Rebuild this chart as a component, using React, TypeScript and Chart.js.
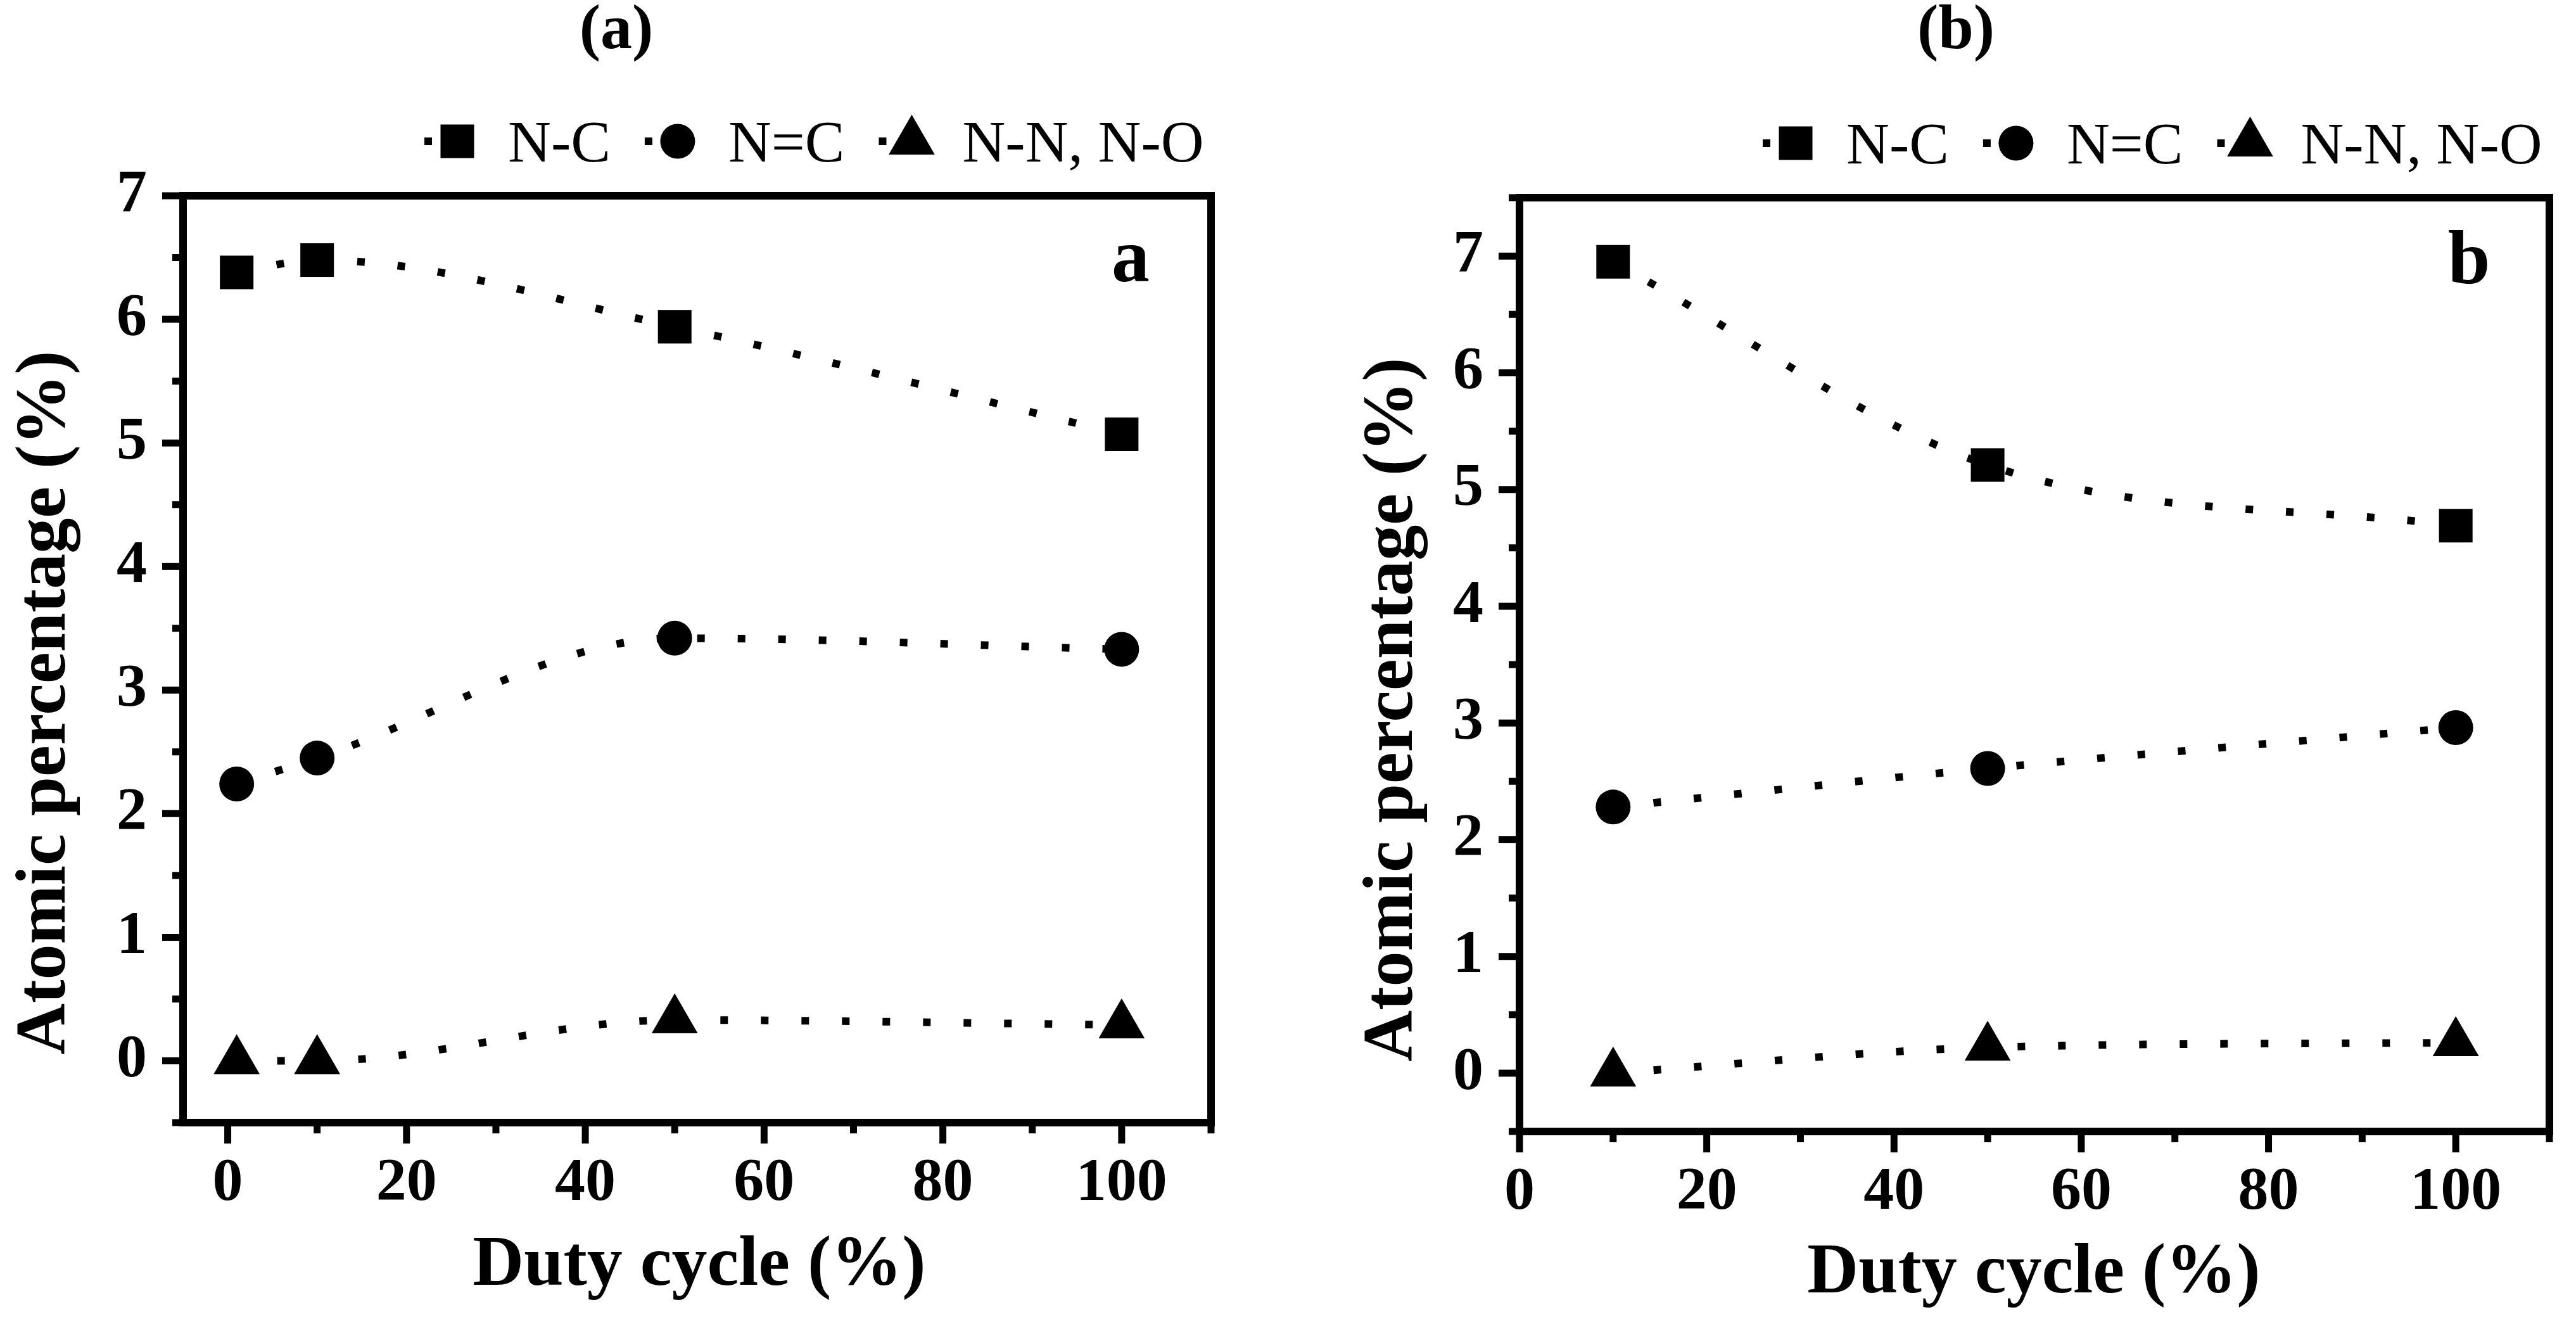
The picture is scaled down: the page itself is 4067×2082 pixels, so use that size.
import { useEffect, useRef } from 'react';
import { Chart, registerables } from 'chart.js';

Chart.register(...registerables);

const FONT = "'Liberation Serif', 'Times New Roman', serif";
const PAGE_H = 2082;

// series names and marker shapes (same for both panels)
const seriesNames = ['N-C', 'N=C', 'N-N, N-O'];
const seriesMarkers = ['rect', 'circle', 'triangle'] as const;

// panel (a)
const dutyA = [1, 10, 50, 100];
const ncA = [6.38, 6.48, 5.94, 5.07];
const ndcA = [2.24, 2.45, 3.42, 3.33];
const nnA = [0, 0, 0.33, 0.29];

// panel (b)
const dutyB = [10, 50, 100];
const ncB = [6.95, 5.21, 4.69];
const ndcB = [2.28, 2.61, 2.96];
const nnB = [0, 0.22, 0.26];

// tick values
const xMajor = [0, 20, 40, 60, 80, 100];
const xMinor = [10, 30, 50, 70, 90, 110];
const yMajor = [0, 1, 2, 3, 4, 5, 6, 7];
const yMinorA = [-0.5, 0.5, 1.5, 2.5, 3.5, 4.5, 5.5, 6.5];
const yMinorB = [-0.5, 0.5, 1.5, 2.5, 3.5, 4.5, 5.5, 6.5, 7.5];

interface PanelCfg {
  title: string;
  letter: string;
  x: number[];
  series: number[][];
  xMin: number;
  xMax: number;
  yMin: number;
  yMax: number;
  yMinor: number[];
  offset: number;
  width: number;
  area: { left: number; right: number; top: number; bottom: number };
  titleX: number;
  xTitleX: number;
  xTitleY: number;
  yTitleX: number;
  yTitleY: number;
  legendY: number;
}

const panelA: PanelCfg = {
  title: '(a)',
  letter: 'a',
  x: dutyA,
  series: [ncA, ndcA, nnA],
  xMin: -5,
  xMax: 110,
  yMin: -0.5,
  yMax: 7,
  yMinor: yMinorA,
  offset: 0,
  width: 2034,
  area: { left: 289, right: 1912, top: 309, bottom: 1772 },
  titleX: 973,
  xTitleX: 1104,
  xTitleY: 2028,
  yTitleX: 102,
  yTitleY: 1109,
  legendY: 223,
};

const panelB: PanelCfg = {
  title: '(b)',
  letter: 'b',
  x: dutyB,
  series: [ncB, ndcB, nnB],
  xMin: 0,
  xMax: 110,
  yMin: -0.5,
  yMax: 7.5,
  yMinor: yMinorB,
  offset: 2034,
  width: 2033,
  area: { left: 365, right: 1997, top: 312, bottom: 1786 },
  titleX: 1054,
  xTitleX: 1177,
  xTitleY: 2040,
  yTitleX: 195,
  yTitleY: 1120,
  legendY: 226,
};

const markerRadius: Record<string, number> = { rect: 37.5, circle: 27.5, triangle: 42 };

function drawMarker(ctx: CanvasRenderingContext2D, style: string, x: number, y: number) {
  const r = markerRadius[style];
  ctx.beginPath();
  if (style === 'rect') {
    const s = r * Math.SQRT1_2;
    ctx.rect(x - s, y - s, 2 * s, 2 * s);
  } else if (style === 'circle') {
    ctx.arc(x, y, r, 0, Math.PI * 2);
  } else {
    ctx.moveTo(x, y - r);
    ctx.lineTo(x + r * Math.sin((2 * Math.PI) / 3), y - r * Math.cos((2 * Math.PI) / 3));
    ctx.lineTo(x + r * Math.sin((4 * Math.PI) / 3), y - r * Math.cos((4 * Math.PI) / 3));
    ctx.closePath();
  }
  ctx.fill();
}

// frame, ticks, titles, legend and the panel letter
function decor(p: PanelCfg) {
  return {
    id: 'decor' + p.letter,
    afterDraw(chart: Chart) {
      const ctx = chart.ctx;
      const { left, right, top, bottom } = chart.chartArea;
      const xs = chart.scales.x;
      const ys = chart.scales.y;
      ctx.save();
      ctx.fillStyle = '#000';
      ctx.strokeStyle = '#000';

      ctx.lineWidth = 12;
      ctx.strokeRect(left, top, right - left, bottom - top);

      ctx.lineWidth = 11;
      ctx.lineCap = 'butt';
      const seg = (x1: number, y1: number, x2: number, y2: number) => {
        ctx.beginPath();
        ctx.moveTo(x1, y1);
        ctx.lineTo(x2, y2);
        ctx.stroke();
      };
      xMajor.forEach((v) => {
        const px = xs.getPixelForValue(v);
        seg(px, bottom, px, bottom + 33);
      });
      xMinor.forEach((v) => {
        const px = xs.getPixelForValue(v);
        seg(px, bottom, px, bottom + 17);
      });
      yMajor.forEach((v) => {
        const py = ys.getPixelForValue(v);
        seg(left, py, left - 33, py);
      });
      p.yMinor.forEach((v) => {
        const py = ys.getPixelForValue(v);
        seg(left, py, left - 17, py);
      });

      ctx.textAlign = 'center';
      ctx.textBaseline = 'alphabetic';
      ctx.font = `bold 100px ${FONT}`;
      ctx.fillText(p.title, p.titleX, 76);

      ctx.font = `bold 112px ${FONT}`;
      ctx.fillText('Duty cycle (%)', p.xTitleX, p.xTitleY);
      ctx.save();
      ctx.translate(p.yTitleX, p.yTitleY);
      ctx.rotate(-Math.PI / 2);
      ctx.fillText('Atomic percentage (%)', 0, 0);
      ctx.restore();

      ctx.font = `bold 120px ${FONT}`;
      ctx.fillText(p.letter, right - 127, top + 135);

      // legend: short dotted sample + marker + name
      ctx.font = `94px ${FONT}`;
      ctx.textAlign = 'left';
      let mx = right - 1190;
      seriesNames.forEach((name, i) => {
        ctx.fillRect(mx - 52, p.legendY - 6, 12, 12);
        drawMarker(ctx, seriesMarkers[i], mx, p.legendY);
        ctx.fillText(name, mx + 80, p.legendY + 32);
        mx += 80 + ctx.measureText(name).width + 106;
      });
      ctx.restore();
    },
  };
}

function Panel({ cfg }: { cfg: PanelCfg }) {
  const chartRef = useRef<HTMLCanvasElement>(null);

  useEffect(() => {
    if (!chartRef.current) return;
    const tickFont = { family: FONT, size: 96, weight: 'bold' as const };

    const chart = new Chart(chartRef.current, {
      type: 'line',
      data: {
        datasets: cfg.series.map((vals, i) => ({
          label: seriesNames[i],
          data: cfg.x.map((xv, j) => ({ x: xv, y: vals[j] })),
          borderColor: '#000',
          backgroundColor: '#000',
          borderWidth: 12,
          borderDash: [12, 52],
          borderCapStyle: 'butt' as const,
          cubicInterpolationMode: 'monotone' as const,
          pointStyle: seriesMarkers[i],
          pointRadius: markerRadius[seriesMarkers[i]],
          pointBackgroundColor: '#000',
          pointBorderWidth: 0,
          fill: false,
        })),
      },
      options: {
        responsive: false,
        animation: false,
        devicePixelRatio: 1,
        events: [],
        layout: {
          padding: {
            top: cfg.area.top,
            left: 0,
            right: cfg.width - cfg.area.right,
            bottom: 0,
          },
        },
        plugins: {
          legend: { display: false },
          title: { display: false },
          tooltip: { enabled: false },
        },
        scales: {
          x: {
            type: 'linear',
            min: cfg.xMin,
            max: cfg.xMax,
            afterFit: (s: any) => {
              s.height = PAGE_H - cfg.area.bottom;
            },
            afterBuildTicks: (s: any) => {
              s.ticks = xMajor.map((v) => ({ value: v }));
            },
            grid: { display: false, drawTicks: false },
            border: { display: false },
            ticks: {
              color: '#000',
              font: tickFont,
              padding: 40,
              maxRotation: 0,
              autoSkip: false,
            },
          },
          y: {
            type: 'linear',
            min: cfg.yMin,
            max: cfg.yMax,
            afterFit: (s: any) => {
              s.width = cfg.area.left;
            },
            afterBuildTicks: (s: any) => {
              s.ticks = yMajor.map((v) => ({ value: v }));
            },
            grid: { display: false, drawTicks: false },
            border: { display: false },
            ticks: {
              color: '#000',
              font: tickFont,
              padding: 57,
              autoSkip: false,
            },
          },
        },
      },
      plugins: [decor(cfg)],
    });

    return () => {
      chart.destroy();
    };
  }, [cfg]);

  return (
    <canvas
      ref={chartRef}
      width={cfg.width}
      height={PAGE_H}
      style={{
        position: 'absolute',
        left: cfg.offset,
        top: 0,
        width: cfg.width,
        height: PAGE_H,
        display: 'block',
      }}
    />
  );
}

export default function App() {
  return (
    <div
      style={{
        position: 'absolute',
        left: 0,
        top: 0,
        width: 4067,
        height: PAGE_H,
        background: '#fff',
        overflow: 'hidden',
      }}
    >
      <Panel cfg={panelA} />
      <Panel cfg={panelB} />
    </div>
  );
}
